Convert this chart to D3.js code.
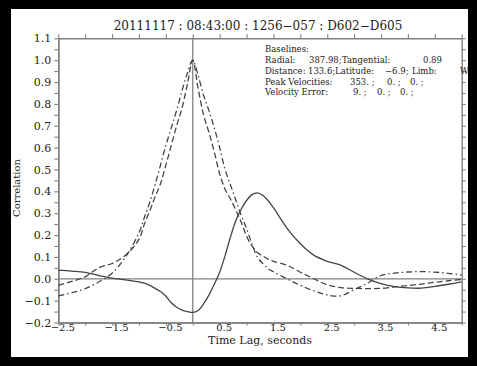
<!DOCTYPE html>
<html><head><meta charset="utf-8">
<script src="https://cdn.jsdelivr.net/npm/d3@7"></script>
<style>
html,body{margin:0;padding:0;background:#000;}
svg{display:block;}
text{font-family:"DejaVu Serif",serif;fill:#222;}
</style></head>
<body>
<svg id="c" width="477" height="366"></svg>
<script>
const title = "20111117 : 08:43:00 : 1256\u2212057 : D602\u2212D605";
const xLabel = "Time Lag, seconds";
const yLabel = "Correlation";
const infoLines = [
  ["Baselines:"],
  ["Radial:", "387.98;", "Tangential:", "0.89"],
  ["Distance:", "133.6;", "Latitude:", "\u22126.9;", "Limb:", "W"],
  ["Peak Velocities:", "353. ;", "0. ;", "0. ;"],
  ["Velocity Error:", "9. ;", "0. ;", "0. ;"]
];
const xMajorTicks = [-2.5, -1.5, -0.5, 0.5, 1.5, 2.5, 3.5, 4.5];
const xTickLabels = ["\u22122.5", "\u22121.5", "\u22120.5", "0.5", "1.5", "2.5", "3.5", "4.5"];
const xMinorTicks = [-2, -1, 0, 1, 2, 3, 4, 5];
const yMajorTicks = [-0.2, -0.1, 0.0, 0.1, 0.2, 0.3, 0.4, 0.5, 0.6, 0.7, 0.8, 0.9, 1.0, 1.1];
const yTickLabels = ["\u22120.2", "\u22120.1", "0.0", "0.1", "0.2", "0.3", "0.4", "0.5", "0.6", "0.7", "0.8", "0.9", "1.0", "1.1"];
const yMinorTicks = [-0.15, -0.05, 0.05, 0.15, 0.25, 0.35, 0.45, 0.55, 0.65, 0.75, 0.85, 0.95, 1.05];

const lags = [-2.5,-2.25,-2.0,-1.75,-1.5,-1.25,-1.0,-0.9,-0.8,-0.7,-0.6,-0.5,-0.4,-0.3,-0.2,-0.1,0,
  0.1,0.2,0.3,0.4,0.5,0.6,0.7,0.8,0.9,1.0,1.1,1.2,1.3,1.4,1.5,1.75,2.0,2.25,2.5,2.75,3.0,3.25,3.5,3.75,4.0,4.25,4.5,4.75,5.0];
const solid = [0.04,0.035,0.029,0.015,0.003,-0.005,-0.014,-0.02,-0.03,-0.044,-0.058,-0.08,-0.11,-0.13,-0.143,-0.15,-0.154,
  -0.145,-0.115,-0.075,-0.025,0.03,0.105,0.19,0.265,0.318,0.358,0.385,0.393,0.382,0.358,0.325,0.232,0.16,0.108,0.08,0.062,0.03,0.0,-0.022,-0.036,-0.042,-0.043,-0.035,-0.025,-0.014];
const dashed = [-0.03,-0.012,0.009,0.05,0.07,0.108,0.18,0.25,0.31,0.375,0.435,0.52,0.61,0.70,0.78,0.89,1.0,
  0.87,0.75,0.67,0.58,0.48,0.41,0.365,0.315,0.26,0.195,0.15,0.12,0.105,0.09,0.08,0.062,0.03,0.0,-0.028,-0.04,-0.044,-0.045,-0.044,-0.037,-0.031,-0.024,-0.016,-0.009,-0.003];
const dashDot = [-0.078,-0.064,-0.045,-0.015,0.025,0.10,0.21,0.28,0.35,0.43,0.52,0.61,0.69,0.77,0.86,0.94,1.0,
  0.93,0.84,0.77,0.69,0.60,0.50,0.43,0.36,0.29,0.23,0.16,0.10,0.07,0.047,0.032,0.0,-0.03,-0.055,-0.074,-0.078,-0.05,-0.02,0.015,0.026,0.031,0.033,0.03,0.025,0.017];

const svg = d3.select("#c");
svg.append("rect").attr("x",11).attr("y",9).attr("width",457).attr("height",348).attr("fill","#fff");

const L=58.3, R=461.7, T=38.3, B=322.5;
const x = d3.scaleLinear().domain([-2.5,5.0]).range([L,R]);
const y = d3.scaleLinear().domain([-0.2,1.1]).range([B,T]);
const axisCol = "#808080";

function styleAxis(g){
  g.select(".domain").attr("stroke",axisCol).attr("stroke-width",1.4);
  g.selectAll(".tick line").attr("stroke",axisCol).attr("stroke-width",1.1);
}
const gB = svg.append("g").attr("transform",`translate(0,${B})`)
  .call(d3.axisBottom(x).tickValues(xMajorTicks).tickFormat((d,i)=>xTickLabels[i]).tickSize(3).tickSizeOuter(0).tickPadding(-1.5));
styleAxis(gB);
gB.selectAll(".tick text").attr("font-size",10).attr("dx",4).attr("fill","#222").attr("font-family","DejaVu Serif");
const gBm = svg.append("g").attr("transform",`translate(0,${B})`)
  .call(d3.axisBottom(x).tickValues(xMinorTicks).tickFormat("").tickSize(3).tickSizeOuter(0));
styleAxis(gBm);
const gT = svg.append("g").attr("transform",`translate(0,${T})`)
  .call(d3.axisTop(x).tickValues(xMajorTicks.concat(xMinorTicks)).tickFormat("").tickSize(4).tickSizeOuter(0));
styleAxis(gT);
const gL = svg.append("g").attr("transform",`translate(${L},0)`)
  .call(d3.axisLeft(y).tickValues(yMajorTicks).tickFormat((d,i)=>yTickLabels[i]).tickSize(4).tickSizeOuter(0).tickPadding(3));
styleAxis(gL);
gL.selectAll(".tick text").attr("font-size",11).attr("fill","#222").attr("font-family","DejaVu Serif");
const gLm = svg.append("g").attr("transform",`translate(${L},0)`)
  .call(d3.axisLeft(y).tickValues(yMinorTicks).tickFormat("").tickSize(4).tickSizeOuter(0));
styleAxis(gLm);
const gR = svg.append("g").attr("transform",`translate(${R},0)`)
  .call(d3.axisRight(y).tickValues(yMajorTicks.concat(yMinorTicks)).tickFormat("").tickSize(4).tickSizeOuter(0));
styleAxis(gR);

svg.append("line").attr("x1",x(0)).attr("x2",x(0)).attr("y1",T).attr("y2",B).attr("stroke",axisCol).attr("stroke-width",1.3);
svg.append("line").attr("x1",L).attr("x2",R).attr("y1",y(0)).attr("y2",y(0)).attr("stroke",axisCol).attr("stroke-width",1.3);

const line = d3.line().x((d,i)=>x(lags[i])).y(d=>y(d)).curve(d3.curveCatmullRom.alpha(0.5));
const series = [
  {v: solid, dash: null},
  {v: dashed, dash: "6,3"},
  {v: dashDot, dash: "6,3,1.5,3"}
];
series.forEach(s=>{
  svg.append("path").attr("d",line(s.v)).attr("fill","none").attr("stroke","#444")
    .attr("stroke-width",1.3).attr("stroke-dasharray",s.dash);
});

svg.append("text").attr("x",258).attr("y",30).attr("text-anchor","middle").attr("font-size",12).text(title);
svg.append("text").attr("x",260).attr("y",343.5).attr("text-anchor","middle").attr("font-size",11).text(xLabel);
svg.append("text").attr("transform","translate(20,188) rotate(-90)").attr("text-anchor","middle").attr("font-size",10).text(yLabel);

const infoX = [[265],[265,309,342,423],[265,308,335,385,412,460],[265,350,387,410],[265,353,377,400]];
const infoY = [52,63,74,85,95];
infoLines.forEach((ln,i)=>{
  ln.forEach((t,j)=>{
    svg.append("text").attr("x",infoX[i][j]).attr("y",infoY[i]).attr("font-size",8.5).text(t);
  });
});
</script>
</body></html>
